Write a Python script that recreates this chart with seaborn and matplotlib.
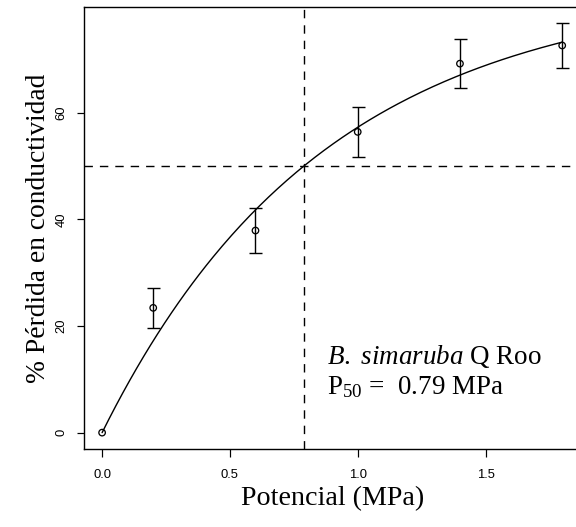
import numpy as np
import pandas as pd
import matplotlib
matplotlib.use("Agg")
import matplotlib.pyplot as plt
import seaborn as sns

# Mean percent loss of conductivity at each water potential, with standard errors
potencial = [0.0, 0.2, 0.6, 1.0, 1.4, 1.8]
perdida = [0.0, 23.4, 37.9, 56.4, 69.2, 72.6]
error = [0.0, 3.75, 4.25, 4.75, 4.55, 4.15]

# Fitted exponential vulnerability curve: y = A * (1 - exp(-b * x))
curva_A = 83.8
curva_b = 1.15
p50 = 0.79

x_ticks = [0.0, 0.5, 1.0, 1.5]
x_tick_labels = ["0.0", "0.5", "1.0", "1.5"]
y_ticks = [0, 20, 40, 60]
y_tick_labels = ["0", "20", "40", "60"]

sns.set_style("ticks")
plt.rcParams["font.family"] = ["Liberation Sans", "DejaVu Sans"]
plt.rcParams["text.color"] = "black"
plt.rcParams["axes.labelcolor"] = "black"
plt.rcParams["mathtext.fontset"] = "custom"
plt.rcParams["mathtext.rm"] = "Liberation Serif"
plt.rcParams["mathtext.it"] = "Liberation Serif:italic"

W, H = 576, 527
fig = plt.figure(figsize=(W / 72, H / 72), dpi=72)
left, right, top, bottom = 83.7, 580.6, 7.0, 449.0
ax = fig.add_axes([left / W, 1 - bottom / H, (right - left) / W, (bottom - top) / H])

df = pd.DataFrame({"potencial": potencial, "perdida": perdida, "error": error})

xc = np.linspace(0, max(potencial), 200)
curve = pd.DataFrame({"x": xc, "y": curva_A * (1 - np.exp(-curva_b * xc))})
sns.lineplot(data=curve, x="x", y="y", ax=ax, color="black", lw=1.4, zorder=3)

# error bars only where a spread exists
mask = df["error"] > 0
ax.errorbar(df.loc[mask, "potencial"], df.loc[mask, "perdida"], yerr=df.loc[mask, "error"],
            fmt="none", ecolor="black", elinewidth=1.4, capsize=6.5, capthick=1.4, zorder=4)
sns.scatterplot(data=df, x="potencial", y="perdida", ax=ax, marker="o", s=42,
                facecolor="none", edgecolor="black", linewidth=1.3, zorder=5)

ax.axhline(50, color="black", lw=1.4, ls=(0, (6, 5)), zorder=2)
ax.axvline(p50, color="black", lw=1.4, ls=(0, (6, 5)), zorder=2)

# axis ranges padded by 4% like R
xr = max(potencial) - min(potencial)
ax.set_xlim(min(potencial) - 0.04 * xr, max(potencial) + 0.04 * xr)
ymax = max(p + e for p, e in zip(perdida, error))
ax.set_ylim(-0.04 * ymax, ymax * 1.04)

ax.set_xticks(x_ticks)
ax.set_xticklabels(x_tick_labels)
ax.set_yticks(y_ticks)
ax.set_yticklabels(y_tick_labels, rotation=90, va="center")
ax.tick_params(axis="both", length=7.5, width=1.2, labelsize=13, color="black",
               labelcolor="black")
ax.tick_params(axis="x", pad=12)
ax.tick_params(axis="y", pad=9)
for sp in ax.spines.values():
    sp.set_visible(True)
    sp.set_linewidth(1.4)
    sp.set_color("black")

ax.set_xlabel("Potencial (MPa)", family="Liberation Serif", fontsize=28, labelpad=6, color="black")
ax.set_ylabel("% Pérdida en conductividad", family="Liberation Serif", fontsize=27.5,
              labelpad=4, color="black")

ax.text(0.879, 12.9, r"$\mathit{B.\ simaruba}$ Q Roo", family="Liberation Serif",
        fontsize=27, ha="left", va="baseline", color="black")
ax.text(0.879, 7.3, r"P$_{\mathrm{50}}$ =  " + f"{p50:.2f} MPa", family="Liberation Serif",
        fontsize=27, ha="left", va="baseline", color="black")

fig.savefig("out.png", dpi=72)
